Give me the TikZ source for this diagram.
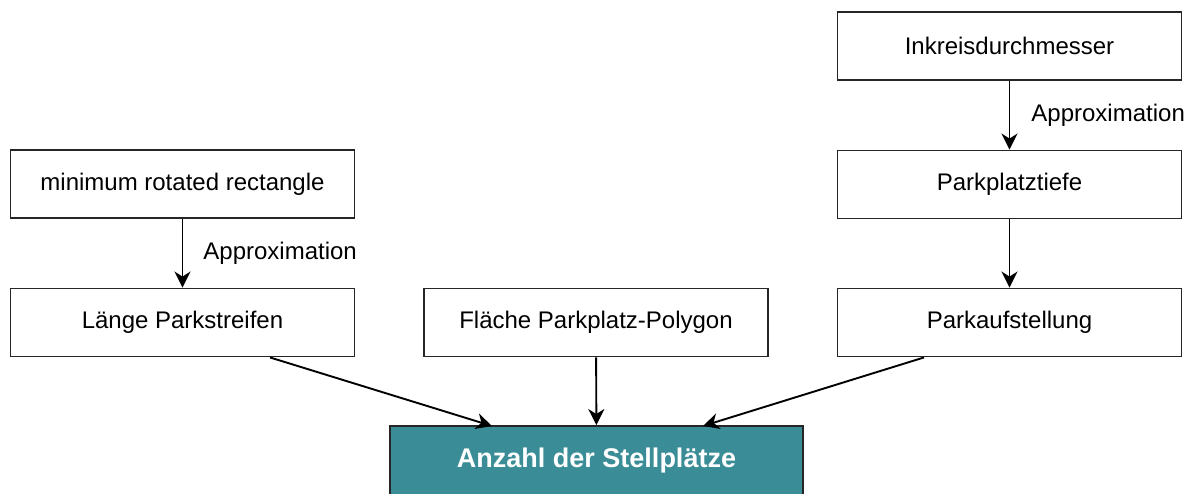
\documentclass[tikz,border=0pt]{standalone}
\usepackage{fontspec}
\setmainfont{Liberation Sans}
\usetikzlibrary{arrows.meta}
\definecolor{teal1}{HTML}{3A8D96}
\begin{document}
\begin{tikzpicture}[x=1pt,y=-1pt,
  box/.style={draw=black!85,line width=1.9pt,minimum width=344pt,minimum height=68pt,inner sep=0pt,font=\fontsize{24}{28}\selectfont,fill=white},
  result/.style={draw=black!85,line width=1.9pt,fill=teal1,text=white,minimum width=413pt,minimum height=70pt,inner sep=0pt,font=\fontsize{27}{30}\selectfont\bfseries},
  conn/.style={line width=1.9pt,-{Stealth[length=16pt,width=16pt,inset=5pt]}},
  lbl/.style={font=\fontsize{24}{28}\selectfont,inner sep=0pt}]
\useasboundingbox (0,0) rectangle (1189,494);
\node[box] (ink) at (1009.5,46) {Inkreisdurchmesser};
\node[box] (tiefe) at (1009.5,184.5) {Parkplatztiefe};
\node[box] (auf) at (1009.5,322.5) {Parkaufstellung};
\node[box] (mrr) at (182.5,184) {minimum rotated rectangle};
\node[box] (laenge) at (182.5,322.5) {Länge Parkstreifen};
\node[box] (flaeche) at (596,322.5) {Fläche Parkplatz-Polygon};
\node[result] (anz) at (596.5,461) {\raisebox{-3pt}{Anzahl der Stellplätze}};
\coordinate (a1) at (492,426);
\coordinate (a3) at (703,426);
\draw[conn] (ink) -- (tiefe) node[lbl,midway,right=21pt] (l1) {Approximation};
\draw[conn] (tiefe) -- (auf);
\draw[conn] (mrr) -- (laenge) node[lbl,midway,right=20pt] (l2) {Approximation};
\draw[conn] (laenge.south -| 270,0) -- (a1);
\draw[conn] (flaeche) -- (anz);
\draw[conn] (auf.south -| 924,0) -- (a3);
\end{tikzpicture}
\end{document}
